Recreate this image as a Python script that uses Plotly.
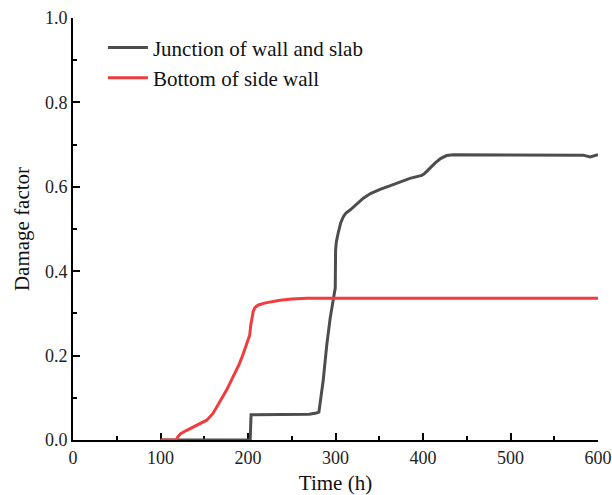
import plotly.graph_objects as go

# Junction of wall and slab
t_junction = [100, 202.5, 203.5, 230, 270, 278, 281, 286, 290, 294, 297.5, 299.7, 300.1, 301, 303, 306,
              309, 312, 316.6, 324, 331.8, 340, 350.9, 362, 373.7, 385, 398.5, 401, 404, 408, 413.7,
              420, 427, 434.6, 500, 570, 583, 591, 600]
d_junction = [0, 0, 0.06, 0.06, 0.061, 0.064, 0.066, 0.142, 0.225, 0.29, 0.332, 0.36, 0.45, 0.47, 0.49, 0.515,
              0.529, 0.538, 0.545, 0.558, 0.573, 0.584, 0.594, 0.602, 0.612, 0.62, 0.627, 0.63, 0.636, 0.645, 0.656,
              0.667, 0.674, 0.676, 0.676, 0.676, 0.675, 0.671, 0.676]

# Bottom of side wall
t_bottom = [100, 118, 120, 123, 130, 140, 152.8, 160, 168, 176, 183, 190, 194.7, 199, 202, 203, 204, 206,
            208, 212, 220, 236.6, 250, 267, 300, 600]
d_bottom = [0, 0, 0.008, 0.015, 0.023, 0.033, 0.047, 0.063, 0.09, 0.12, 0.15, 0.18, 0.205, 0.232, 0.249, 0.27,
            0.284, 0.305, 0.314, 0.32, 0.325, 0.331, 0.334, 0.336, 0.336, 0.336]

x_ticks = [0, 100, 200, 300, 400, 500, 600]
y_ticks = [0.0, 0.2, 0.4, 0.6, 0.8, 1.0]

FONT = "Liberation Serif"

fig = go.Figure()
fig.add_trace(go.Scatter(x=t_junction, y=d_junction, mode="lines", name="Junction of wall and slab",
                         line=dict(color="#4d4d4d", width=3)))
fig.add_trace(go.Scatter(x=t_bottom, y=d_bottom, mode="lines", name="Bottom of side wall",
                         line=dict(color="#f03c3c", width=3)))

axis_common = dict(showline=True, linecolor="black", linewidth=2, ticks="inside", ticklen=7, tickwidth=1.5,
                   tickcolor="black", showgrid=False, zeroline=False, layer="below traces", automargin=False,
                   tickfont=dict(family=FONT, size=18, color="#222"))

fig.update_xaxes(range=[0, 600], tickvals=x_ticks, ticktext=[str(v) for v in x_ticks],
                 minor=dict(ticks="inside", ticklen=4, tickwidth=1.5, tickcolor="black", dtick=50),
                 title=dict(text="Time (h)", font=dict(family=FONT, size=21, color="#111"), standoff=17),
                 **axis_common)
fig.update_yaxes(range=[0, 1.0], tickvals=y_ticks, ticktext=[f"{v:.1f}" for v in y_ticks],
                 minor=dict(ticks="inside", ticklen=4, tickwidth=1.5, tickcolor="black", dtick=0.1),
                 title=dict(text="Damage factor", font=dict(family=FONT, size=21, color="#111"), standoff=10),
                 **axis_common)

fig.update_layout(
    width=612, height=495,
    margin=dict(l=73, r=14, t=18, b=55),
    paper_bgcolor="white", plot_bgcolor="white",
    showlegend=True,
    legend=dict(x=0.057, y=0.978, xanchor="left", yanchor="top", bgcolor="rgba(0,0,0,0)",
                font=dict(family=FONT, size=21, color="#111"), tracegroupgap=0, itemwidth=40),
)

fig.write_html("out.html")
